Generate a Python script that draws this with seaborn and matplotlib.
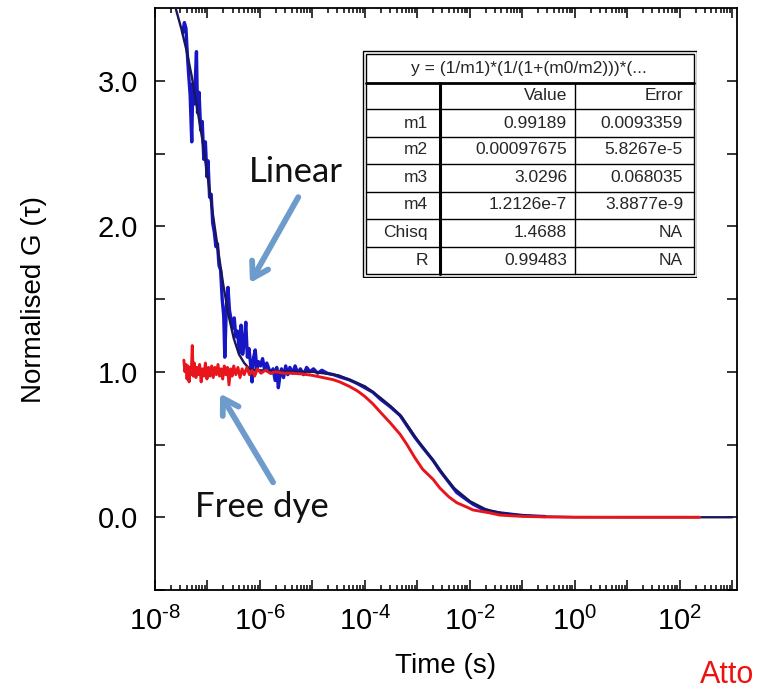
import numpy as np
import pandas as pd
import matplotlib
matplotlib.use("Agg")
import matplotlib.pyplot as plt
import seaborn as sns

# ---- data: log10(time / s) and normalised correlation G(tau) ----
linear_logt = [-7.47, -7.44, -7.41, -7.39, -7.36, -7.33, -7.30, -7.28, -7.25, -7.21,
               -7.19, -7.16, -7.13, -7.10, -7.07, -7.04, -7.01, -6.99, -6.96, -6.93,
               -6.90, -6.87, -6.84, -6.81, -6.78, -6.75, -6.72, -6.69, -6.67, -6.64,
               -6.61, -6.58, -6.55, -6.52, -6.49, -6.46, -6.43, -6.39, -6.36, -6.33,
               -6.30, -6.27, -6.24, -6.21, -6.18, -6.15, -6.12, -6.09, -6.06, -6.03,
               -5.99, -5.95, -5.91, -5.87, -5.83, -5.79, -5.75, -5.71, -5.68, -5.65,
               -5.62, -5.59, -5.55, -5.51, -5.47, -5.43, -5.38, -5.33, -5.28, -5.23,
               -5.17, -5.11, -5.05, -4.98, -4.90, -4.82, -4.72, -4.60, -4.48, -4.30,
               -4.15, -4.00, -3.85, -3.70, -3.52, -3.33, -3.20, -3.05, -2.90, -2.70,
               -2.57, -2.40, -2.25, -2.06, -1.94, -1.78, -1.62, -1.43, -1.20, -1.00,
               -0.80, -0.57]
linear_g = [3.33, 3.40, 3.36, 3.22, 3.05, 2.90, 2.58, 2.98, 2.84, 3.20,
            2.78, 2.92, 2.66, 2.72, 2.46, 2.58, 2.34, 2.45, 2.20, 2.22,
            2.02, 1.96, 1.86, 1.88, 1.73, 1.70, 1.50, 1.38, 1.10, 1.45,
            1.58, 1.42, 1.36, 1.30, 1.37, 1.24, 1.28, 1.13, 1.32, 1.12,
            1.20, 1.34, 1.10, 1.16, 1.06, 0.93, 1.10, 1.15, 1.02, 1.07,
            1.04, 1.09, 1.01, 1.06, 1.02, 0.99, 1.02, 0.94, 1.03, 0.89,
            0.97, 1.02, 0.96, 1.04, 0.98, 1.03, 0.99, 1.04, 0.99, 1.02,
            0.98, 1.03, 1.00, 1.02, 0.99, 1.01, 0.99, 0.98, 0.965, 0.945,
            0.92, 0.89, 0.86, 0.81, 0.76, 0.70, 0.63, 0.55, 0.48, 0.39,
            0.32, 0.24, 0.17, 0.12, 0.09, 0.06, 0.04, 0.03, 0.02, 0.012,
            0.008, 0.005]

dye_logt = [-7.45, -7.43, -7.41, -7.39, -7.37, -7.35, -7.33, -7.31, -7.29, -7.27,
            -7.25, -7.22, -7.20, -7.17, -7.15, -7.12, -7.10, -7.07, -7.04, -7.01,
            -6.98, -6.95, -6.92, -6.89, -6.86, -6.83, -6.80, -6.77, -6.74, -6.71,
            -6.68, -6.65, -6.62, -6.59, -6.56, -6.53, -6.50, -6.46, -6.42, -6.38,
            -6.34, -6.30, -6.25, -6.20, -6.15, -6.10, -6.05, -5.98, -5.90, -5.80,
            -5.70, -5.55, -5.40, -5.20, -5.00, -4.80, -4.60, -4.48, -4.30, -4.15,
            -4.00, -3.85, -3.70, -3.52, -3.33, -3.20, -3.05, -2.90, -2.70, -2.57,
            -2.40, -2.25, -2.06, -1.94, -1.78, -1.62, -1.43, -1.20, -1.00, -0.50,
            0.00, 1.00, 2.38]
dye_g = [1.08, 1.00, 1.05, 0.95, 1.04, 0.93, 1.03, 0.98, 1.18, 0.97,
         1.06, 0.96, 1.03, 0.98, 1.05, 0.93, 1.02, 0.97, 1.06, 0.95,
         1.03, 0.97, 1.04, 0.96, 1.03, 0.98, 1.05, 0.97, 1.02, 0.95,
         1.04, 0.98, 1.03, 0.91, 1.02, 0.97, 1.04, 0.98, 1.03, 0.96,
         1.02, 0.98, 1.03, 0.98, 1.01, 0.97, 1.02, 0.99, 1.01, 0.99,
         1.00, 0.99, 0.99, 0.985, 0.975, 0.96, 0.945, 0.93, 0.90, 0.87,
         0.83, 0.78, 0.72, 0.65, 0.57, 0.50, 0.41, 0.33, 0.26, 0.20,
         0.14, 0.10, 0.07, 0.05, 0.04, 0.03, 0.015, 0.01, 0.006, 0.002,
         0.0, 0.0, 0.0]

fit_logt = [-7.60, -7.50, -7.40, -7.30, -7.20, -7.10, -7.00, -6.90, -6.80, -6.70,
            -6.60, -6.50, -6.40, -6.30, -6.20, -6.10, -6.00, -5.50, -5.00, -4.50,
            -4.00, -3.70, -3.50, -3.30, -3.00, -2.70, -2.50, -2.30, -2.00, -1.70,
            -1.40, -1.00, -0.50, 0.00, 1.00, 2.00, 3.00]
fit_g = [3.49, 3.36, 3.21, 3.03, 2.82, 2.60, 2.35, 2.09, 1.84, 1.60,
         1.39, 1.23, 1.12, 1.06, 1.02, 1.01, 1.01, 1.00, 1.00, 0.975,
         0.90, 0.82, 0.76, 0.69, 0.53, 0.39, 0.29, 0.20, 0.11, 0.055,
         0.028, 0.012, 0.004, 0.001, 0.0, 0.0, 0.0]

# fit results table
fit_title = "y = (1/m1)*(1/(1+(m0/m2)))*(..."
param_names = ["m1", "m2", "m3", "m4", "Chisq", "R"]
param_values = ["0.99189", "0.00097675", "3.0296", "1.2126e-7", "1.4688", "0.99483"]
param_errors = ["0.0093359", "5.8267e-5", "0.068035", "3.8877e-9", "NA", "NA"]

x_tick_exponents = [-8, -7, -6, -5, -4, -3, -2, -1, 0, 1, 2, 3]
y_ticks = [0.0, 1.0, 2.0, 3.0]

# ---- style ----
sns.set_theme(style="white")
plt.rcParams["font.family"] = ["Liberation Sans", "DejaVu Sans"]
plt.rcParams["mathtext.fontset"] = "custom"
plt.rcParams["mathtext.rm"] = "Liberation Sans"
plt.rcParams["mathtext.it"] = "Liberation Sans:italic"
plt.rcParams["mathtext.default"] = "regular"

W, H = 758, 694
fig = plt.figure(figsize=(W / 100, H / 100), dpi=100)
fig.patch.set_facecolor("white")
ax = fig.add_axes([155 / W, 1 - 590 / H, 582 / W, 582 / H])

frames = {
    "linear": pd.DataFrame({"t": np.power(10.0, linear_logt), "g": linear_g}),
    "dye": pd.DataFrame({"t": np.power(10.0, dye_logt), "g": dye_g}),
    "fit": pd.DataFrame({"t": np.power(10.0, fit_logt), "g": fit_g}),
}

sns.lineplot(data=frames["linear"], x="t", y="g", ax=ax, color="#1616c4",
             lw=2.4, sort=False, estimator=None, zorder=3)
sns.lineplot(data=frames["fit"], x="t", y="g", ax=ax, color="#17175a",
             lw=1.7, sort=False, estimator=None, zorder=4)
sns.lineplot(data=frames["dye"], x="t", y="g", ax=ax, color="#e8161c",
             lw=2.1, sort=False, estimator=None, zorder=5)

ax.set_xscale("log")
ax.set_xlim(1e-8, 10 ** 3.09)
ax.set_ylim(-0.5, 3.5)


def decade_label(e):
    sign = r"\text{-}" if e < 0 else ""
    return r"$10^{%s%d}$" % (sign, abs(e))


major_x = [10.0 ** e for e in x_tick_exponents]
ax.set_xticks(major_x)
ax.set_xticklabels([decade_label(e) if e % 2 == 0 else "" for e in x_tick_exponents])
ax.xaxis.set_minor_locator(matplotlib.ticker.LogLocator(base=10, subs=np.arange(2, 10), numticks=100))
ax.xaxis.set_minor_formatter(matplotlib.ticker.NullFormatter())

ax.set_yticks(y_ticks)
ax.set_yticklabels([f"{v:.1f}" for v in y_ticks])
ax.set_yticks([-0.5, 0.5, 1.5, 2.5], minor=True)

ax.tick_params(axis="both", which="both", direction="in", top=True, right=True,
               bottom=True, left=True, color="black", width=1.1,
               labelcolor="black")
ax.tick_params(axis="x", which="major", length=7, labelsize=21, pad=12)
ax.tick_params(axis="x", which="minor", length=3.5)
ax.tick_params(axis="y", which="both", length=7, labelsize=21, pad=12)
for s in ax.spines.values():
    s.set_color("black")
    s.set_linewidth(1.3)

ax.set_xlabel("Time (s)", fontsize=20, color="black")
ax.set_ylabel("Normalised G (τ)", fontsize=20, color="black")
ax.xaxis.set_label_coords(0.5, -0.108)
ax.yaxis.set_label_coords(-0.185, 0.5)

# annotations with arrows
arrow_kw = dict(arrowstyle="->,head_length=0.9,head_width=0.55", lw=4.2,
                color="#6d9ccc", shrinkA=0, shrinkB=0)
ax.annotate("", xy=(10 ** -6.19, 1.61), xytext=(10 ** -5.27, 2.20),
            arrowprops=arrow_kw, zorder=6)
ax.annotate("", xy=(10 ** -6.76, 0.85), xytext=(10 ** -5.75, 0.24),
            arrowprops=arrow_kw, zorder=6)
ax.text(10 ** -5.31, 2.37, "Linear", fontsize=25, family="Lato", weight="normal",
        ha="center", va="center", color="#111111", zorder=7)
ax.text(10 ** -5.96, 0.07, "Free dye", fontsize=25, family="Lato", weight="normal",
        ha="center", va="center", color="#111111", zorder=7)

# fit parameter table
tab = fig.add_axes([362 / W, 1 - 278 / H, 335 / W, 228 / H])
tab.set_xlim(0, 335)
tab.set_ylim(228, 0)
tab.axis("off")
tab.add_patch(plt.Rectangle((0.5, 0.5), 334, 227, fill=True, fc="white", ec="black", lw=1.0))
tab.add_patch(plt.Rectangle((3.5, 3.5), 328, 221, fill=False, ec="black", lw=1.0))
tab.plot([3.5, 331.5], [33, 33], color="black", lw=2.0)
for yy in [59, 87, 114, 142, 169, 197]:
    tab.plot([3.5, 331.5], [yy, yy], color="black", lw=1.0)
tab.plot([78, 78], [33, 224.5], color="black", lw=2.2)
tab.plot([213, 213], [33, 224.5], color="black", lw=1.0)
tab.text(167, 18, fit_title, fontsize=12.5, ha="center", va="center")
tab.text(205, 46, "Value", fontsize=12.5, ha="right", va="center")
tab.text(321, 46, "Error", fontsize=12.5, ha="right", va="center")
row_centres = [73, 100, 128, 155, 183, 211]
for yc, name, val, err in zip(row_centres, param_names, param_values, param_errors):
    tab.text(66, yc, name, fontsize=12.5, ha="right", va="center")
    tab.text(205, yc, val, fontsize=12.5, ha="right", va="center")
    tab.text(321, yc, err, fontsize=12.5, ha="right", va="center")

fig.text(700 / W, 1 - 683 / H, "Atto", color="#ee1111", fontsize=22,
         ha="left", va="baseline")

fig.savefig("out.png", dpi=100, facecolor="white")
